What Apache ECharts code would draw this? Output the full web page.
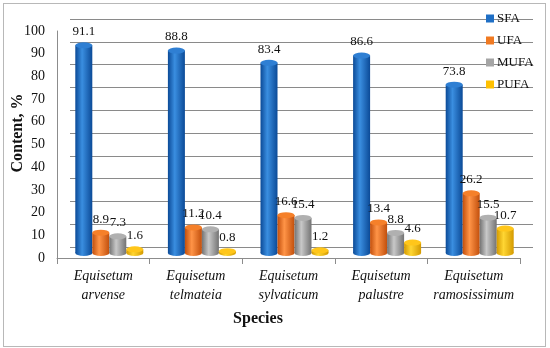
<!DOCTYPE html>
<html><head><meta charset="utf-8">
<script src="https://cdn.jsdelivr.net/npm/echarts@6/dist/echarts.min.js"></script>
<style>html,body{margin:0;padding:0;background:#fff}#wrap{position:relative;width:550px;height:348px}#c{width:550px;height:348px}#frame{position:absolute;left:3px;top:3px;width:543px;height:344px;box-sizing:border-box;border:1px solid #b8b8b8;pointer-events:none}</style>
</head><body><div id="wrap"><div id="c"></div><div id="frame"></div></div>
<script>
const categories = ['Equisetum\narvense','Equisetum\ntelmateia','Equisetum\nsylvaticum','Equisetum\npalustre','Equisetum\nramosissimum'];
const SFA  = [91.1, 88.8, 83.4, 86.6, 73.8];
const UFA  = [8.9, 11.2, 16.6, 13.4, 26.2];
const MUFA = [7.3, 10.4, 15.4, 8.8, 15.5];
const PUFA = [1.6, 0.8, 1.2, 4.6, 10.7];
const seriesNames = ['SFA','UFA','MUFA','PUFA'];
const yTicks = [0,10,20,30,40,50,60,70,80,90,100];

const values = [SFA, UFA, MUFA, PUFA];
const palette = [
  {dark:'#0b4a97', light:'#3a8ee0', top:'#2f7fd3', legend:'#1f6fc5'},
  {dark:'#c24f0c', light:'#ff9447', top:'#f5802a', legend:'#f07a22'},
  {dark:'#737373', light:'#c8c8c8', top:'#b0b0b0', legend:'#a5a5a5'},
  {dark:'#d49a00', light:'#ffd633', top:'#ffc61a', legend:'#ffc000'}
];
const grad = p => new echarts.graphic.LinearGradient(0,0,1,0,[
  {offset:0,color:p.dark},{offset:0.4,color:p.light},{offset:1,color:p.dark}]);

const serif = 'Liberation Serif';
const series = [];
values.forEach((v,i)=>{
  series.push({
    name: seriesNames[i], type:'bar', xAxisIndex:1, yAxisIndex:1,
    data: v, barWidth:17, barGap:'0%', z:3,
    itemStyle:{color:grad(palette[i])},
    label:{show:true, position:'top', distance:7, color:'#111', fontFamily:serif, fontSize:13}
  });
});
values.forEach((v,i)=>{
  series.push({
    name: seriesNames[i]+'_top', type:'pictorialBar', xAxisIndex:1, yAxisIndex:1,
    data: v, barWidth:17, barGap:'0%', symbol:'circle', symbolSize:[17,6],
    symbolPosition:'end', symbolOffset:[0,'-50%'], z:4,
    itemStyle:{color:palette[i].top}, silent:true
  });
});
values.forEach((v,i)=>{
  series.push({
    name: seriesNames[i]+'_bottom', type:'pictorialBar', xAxisIndex:3, yAxisIndex:3,
    data: v, barWidth:17, barGap:'0%', symbol:'circle', symbolSize:[17,6],
    symbolPosition:'start', symbolOffset:[0,'50%'], z:2,
    itemStyle:{color:grad(palette[i])}, silent:true
  });
});

const chart = echarts.init(document.getElementById('c'));
chart.setOption({
  animation:false,
  legend:{
    data: seriesNames.map((n,i)=>({name:n, icon:'rect', itemStyle:{color:palette[i].legend}})),
    orient:'vertical', left:481, top:7, itemWidth:8, itemHeight:8, itemGap:9,
    textStyle:{fontFamily:serif, fontSize:13, color:'#111', padding:[0,0,0,-2]}
  },
  grid:[
    {left:70, right:17, top:19, bottom:101},
    {left:63, right:24, top:25, bottom:95},
    {left:57, right:30, top:31, bottom:90}
  ],
  xAxis:[
    {type:'category', gridIndex:0, data:categories, axisLine:{show:false}, axisTick:{show:false}, axisLabel:{show:false}},
    {type:'category', gridIndex:1, data:categories, show:false},
    {type:'category', gridIndex:2, data:categories,
      axisLine:{show:true, lineStyle:{color:'#8c8c8c'}},
      axisTick:{show:true, length:6, lineStyle:{color:'#8c8c8c'}},
      axisLabel:{margin:9, fontFamily:serif, fontStyle:'italic', fontSize:14, lineHeight:19, color:'#111', interval:0}
    },
    {type:'category', gridIndex:1, data:categories, show:false}
  ],
  yAxis:[
    {type:'value', gridIndex:0, min:0, max:100, interval:10,
      axisLabel:{show:false},
      axisTick:{show:true, inside:true, length:463, lineStyle:{color:'#8a8a8a', width:1}},
      splitLine:{show:true, lineStyle:{color:'#8a8a8a', width:1}}
    },
    {type:'value', gridIndex:1, min:0, max:100, interval:10, show:false},
    {type:'value', gridIndex:2, min:0, max:100, interval:10,
      axisLine:{show:true, lineStyle:{color:'#8c8c8c'}}, axisTick:{show:false},
      splitLine:{show:false},
      axisLabel:{margin:12, fontFamily:serif, fontSize:14, color:'#111',
        formatter: v => yTicks.includes(v) ? String(v) : ''}
    },
    {type:'value', gridIndex:1, min:0, max:100, interval:10, show:false}
  ],
  graphic:[
    {type:'text', x:258, y:319, style:{text:'Species', fontFamily:serif, fontWeight:'bold', fontSize:16, fill:'#111', align:'center', verticalAlign:'middle'}, silent:true},
    {type:'text', x:18, y:133, rotation:Math.PI/2, style:{text:'Content, %', fontFamily:serif, fontWeight:'bold', fontSize:16, fill:'#111', align:'center', verticalAlign:'middle'}, silent:true}
  ],
  series: series
});
</script></body></html>
